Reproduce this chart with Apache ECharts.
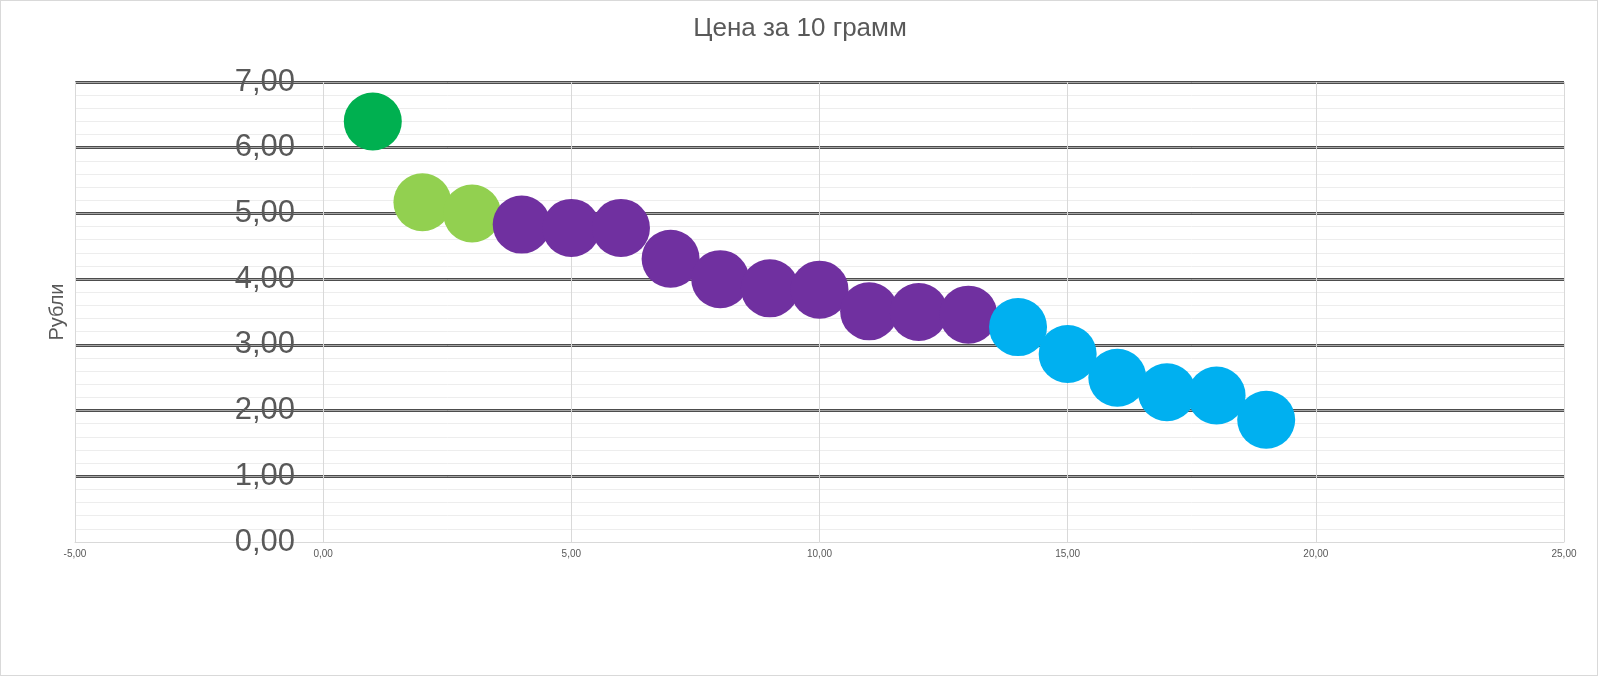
<!DOCTYPE html>
<html>
<head>
<meta charset="utf-8">
<title>Цена за 10 грамм</title>
<script src="https://cdn.jsdelivr.net/npm/echarts@6/dist/echarts.min.js"></script>
<style>
  html, body { margin: 0; padding: 0; background: #fff; }
  #frame {
    position: absolute; left: 0; top: 0;
    width: 1596px; height: 674px;
    border: 1px solid #d9d9d9;
  }
  #chart {
    position: absolute; left: 0; top: 0;
    width: 1600px; height: 677px;
  }
</style>
</head>
<body>
<div id="frame"></div>
<div id="chart"></div>
<script>
// номер позиции (ось X) и цена за 10 грамм, руб.
var positions = [1, 2, 3, 4, 5, 6, 7, 8, 9, 10, 11, 12, 13, 14, 15, 16, 17, 18, 19]
var prices = [6.40, 5.17, 5.00, 4.83, 4.78, 4.78, 4.31, 4.00, 3.86, 3.84, 3.51, 3.50, 3.46, 3.27, 2.86, 2.50, 2.28, 2.23, 1.86]
// группа каждой точки (для цвета)
var groups = [0, 1, 1, 2, 2, 2, 2, 2, 2, 2, 2, 2, 2, 3, 3, 3, 3, 3, 3]
var groupNames = ['Группа 1', 'Группа 2', 'Группа 3', 'Группа 4']

var palette = ['#00b050', '#92d050', '#7030a0', '#00b0f0']
var textColor = '#595959'
var font = "'Liberation Sans', Arial, sans-serif"

function fmt(v) {
  return v.toFixed(2).replace('.', ',')
}

var series = groupNames.map(function(name, g) {
  var pts = []
  positions.forEach(function(x, i) {
    if (groups[i] === g) pts.push([x, prices[i]])
  })
  return {
    name: name,
    type: 'scatter',
    symbol: 'circle',
    symbolSize: 58,
    itemStyle: { color: palette[g], opacity: 1 },
    data: pts
  }
})

// первая линия (0,00) прячется под осью X
var majorDark = ['rgba(0,0,0,0)', '#4d4d4d', '#4d4d4d', '#4d4d4d', '#4d4d4d', '#4d4d4d', '#4d4d4d', '#4d4d4d']
var majorMid = ['rgba(0,0,0,0)', '#a6a6a6', '#a6a6a6', '#a6a6a6', '#a6a6a6', '#a6a6a6', '#a6a6a6', '#a6a6a6']

var chart = echarts.init(document.getElementById('chart'), null, { renderer: 'canvas' })

chart.setOption({
  animation: false,
  backgroundColor: 'transparent',
  textStyle: { fontFamily: font },
  title: {
    text: 'Цена за 10 грамм',
    left: 'center',
    top: 11,
    textStyle: { color: textColor, fontSize: 26, fontWeight: 'normal', fontFamily: font }
  },
  grid: { left: 75, right: 36, top: 82, bottom: 135, containLabel: false, outerBoundsMode: 'none' },
  xAxis: {
    type: 'value',
    min: -5,
    max: 25,
    interval: 5,
    axisLine: { show: true, onZero: false, lineStyle: { color: '#d9d9d9', width: 1 } },
    axisTick: { show: false },
    axisLabel: { color: textColor, fontSize: 10, margin: 7, formatter: fmt, fontFamily: font },
    splitLine: { show: true, lineStyle: { color: '#d9d9d9', width: 1 } }
  },
  yAxis: [
    {
      type: 'value',
      min: 0,
      max: 7,
      interval: 1,
      name: 'Рубли',
      nameLocation: 'middle',
      nameGap: 3,
      nameTextStyle: { color: textColor, fontSize: 20, fontFamily: font },
      axisLine: { show: true, onZero: false, lineStyle: { color: '#d9d9d9', width: 1 } },
      axisTick: { show: false },
      // подписи стоят внутри области, у нуля оси X
      axisLabel: { color: textColor, fontSize: 31, margin: -220, formatter: fmt, fontFamily: font },
      splitLine: { show: true, lineStyle: { color: majorDark, width: 3 } },
      minorTick: { show: false, splitNumber: 5 },
      minorSplitLine: { show: true, lineStyle: { color: '#ededed', width: 1 } }
    },
    {
      type: 'value',
      min: 0,
      max: 7,
      interval: 1,
      axisLine: { show: false },
      axisTick: { show: false },
      axisLabel: { show: false },
      splitLine: { show: true, lineStyle: { color: majorMid, width: 1 } }
    }
  ],
  series: series
})
</script>
</body>
</html>
